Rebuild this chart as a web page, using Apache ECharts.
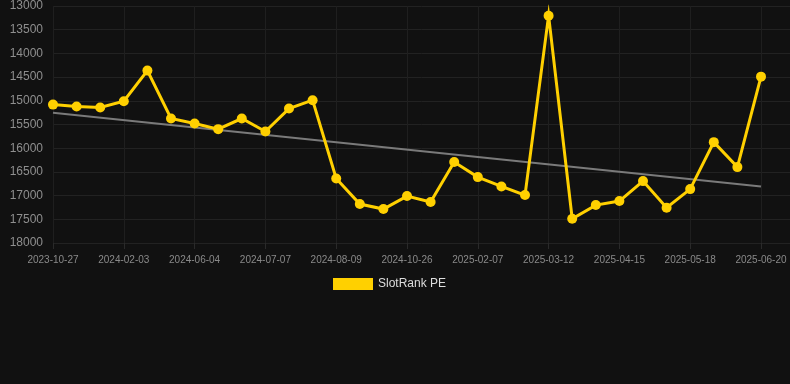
<!DOCTYPE html>
<html><head><meta charset="utf-8">
<script src="https://cdn.jsdelivr.net/npm/echarts@6/dist/echarts.min.js"></script>
<style>html,body{margin:0;padding:0;background:#111111;}#c{width:790px;height:384px;}</style>
</head><body><div id="c"></div>
<script>
const categories = ["2023-10-27","2023-11-29","2024-01-01","2024-02-03","2024-03-07","2024-04-09","2024-06-04","2024-06-15","2024-06-26","2024-07-07","2024-07-18","2024-07-29","2024-08-09","2024-09-11","2024-10-14","2024-10-26","2024-12-01","2025-01-04","2025-02-07","2025-02-18","2025-03-01","2025-03-12","2025-03-23","2025-04-04","2025-04-15","2025-04-26","2025-05-07","2025-05-18","2025-05-29","2025-06-09","2025-06-20"];
const values = [15080,15121,15142,15008,14363,15374,15480,15598,15374,15648,15164,14987,16639,17179,17284,17010,17136,16293,16610,16807,16989,13204,17488,17200,17115,16694,17256,16863,15872,16399,14490];
const trendValues = [15254,16807];
const yMin = 13000, yMax = 18000, yStep = 500;
const seriesName = "SlotRank PE";

const trendData = categories.map((c,i)=> i===0 ? trendValues[0] : (i===categories.length-1 ? trendValues[1] : null));

const chart = echarts.init(document.getElementById('c'));
chart.setOption({
  backgroundColor:'#111111',
  animation:false,
  grid:[
    {left:53,right:29,top:6,bottom:141},
    {left:53,right:0,top:6,bottom:141}
  ],
  legend:{data:[seriesName],top:278,left:333,itemWidth:40,itemHeight:12,itemGap:10,padding:0,
    icon:'rect',textStyle:{color:'#dddddd',fontSize:12,fontFamily:'Liberation Sans, Arial, sans-serif'}},
  xAxis:[
    {type:'category',gridIndex:0,data:categories,boundaryGap:false,
     axisLine:{show:false},
     axisTick:{show:true,interval:2,length:6,lineStyle:{color:'#2a2a2a'}},
     axisLabel:{interval:2,color:'#8a8a8a',fontSize:10,margin:12,fontFamily:'Liberation Sans, Arial, sans-serif'},
     splitLine:{show:true,interval:2,lineStyle:{color:'#1f1f1f',width:1}}},
    {type:'category',gridIndex:1,data:categories,show:false}
  ],
  yAxis:[
    {type:'value',gridIndex:0,inverse:true,min:yMin,max:yMax,interval:yStep,
     axisLine:{show:false},axisTick:{show:false},
     axisLabel:{color:'#8f8f8f',fontSize:12,margin:10,formatter:v=>String(v),fontFamily:'Liberation Sans, Arial, sans-serif'},
     splitLine:{show:false}},
    {type:'value',gridIndex:1,inverse:true,min:yMin,max:yMax,interval:yStep,
     axisLine:{show:false},axisTick:{show:false},axisLabel:{show:false},
     splitLine:{show:true,lineStyle:{color:'#222222',width:1}}}
  ],
  series:[
    {name:'trend',type:'line',xAxisIndex:0,yAxisIndex:0,data:trendData,connectNulls:true,
     symbol:'none',lineStyle:{color:'#7a7a7a',width:2},itemStyle:{color:'#7a7a7a'},z:2,silent:true},
    {name:seriesName,type:'line',xAxisIndex:0,yAxisIndex:0,data:values,
     symbol:'circle',symbolSize:10,showAllSymbol:true,
     lineStyle:{color:'#ffd000',width:3,join:'miter'},itemStyle:{color:'#ffd000'},z:3}
  ]
});
</script></body></html>
